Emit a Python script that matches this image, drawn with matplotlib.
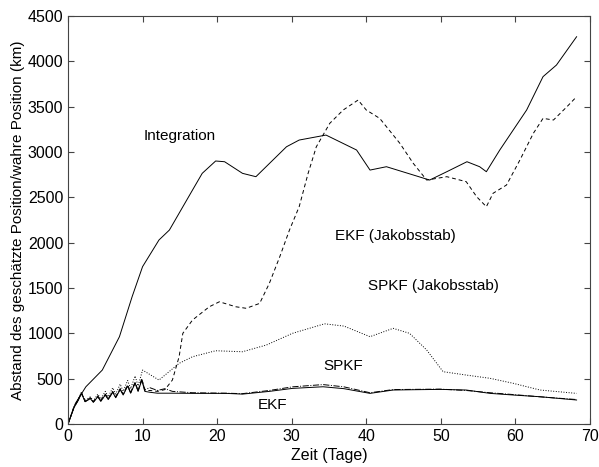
import matplotlib
matplotlib.use('Agg')
import matplotlib.pyplot as plt

plt.rcParams['font.family'] = ['Liberation Sans', 'DejaVu Sans']

# Integration (solid)
integ_t = [0, 1.0, 2.4, 4.6, 6.9, 8.6, 10, 12.2, 13.6, 16.7, 18.0, 19.8, 21.0, 23.4,
           25.2, 29.3, 31.0, 34.6, 38.7, 40.5, 42.7, 48.5, 50.8, 53.5, 55.2, 56.1,
           57.9, 61.5, 63.7, 65.5, 68.2]
integ_v = [0, 228, 411, 595, 963, 1404, 1735, 2029, 2139, 2580, 2764, 2900, 2892, 2764,
           2727, 3057, 3131, 3186, 3021, 2800, 2837, 2690, 2782, 2892, 2837, 2782,
           3021, 3462, 3830, 3958, 4270]

# EKF mit Jakobsstab (dashed)
ekfj_t = [0, 0.8, 1.4, 1.8, 2.3, 3.0, 3.4, 4.0, 4.4, 5.0, 5.4, 6.0, 6.4, 7.0, 7.4,
          8.0, 8.4, 9.0, 9.4, 9.9, 10.3, 11.0, 12.0, 13.0, 14.0, 14.9, 15.4, 16.7,
          18.95, 20.3, 22.5, 23.9, 25.7, 27.0, 28.4, 29.7, 31.0, 32.2, 33.3, 35.1,
          36.9, 38.9, 40.0, 41.8, 44.5, 46.3, 48.1, 50.8, 53.4, 54.8, 56.1, 57.0,
          58.8, 60.6, 62.4, 63.7, 65.1, 66.9, 68.2]
ekfj_v = [0, 190, 270, 345, 250, 290, 245, 310, 260, 330, 280, 360, 300, 390, 330,
          430, 350, 460, 370, 500, 370, 370, 360, 380, 485, 742, 1000, 1147,
          1293, 1348, 1293, 1276, 1330, 1551, 1845, 2139, 2396, 2764, 3057, 3315,
          3462, 3572, 3462, 3370, 3095, 2874, 2690, 2727, 2672, 2506, 2396, 2544,
          2635, 2911, 3205, 3370, 3352, 3498, 3609]

# SPKF mit Jakobsstab (dotted)
spkfj_t = [0, 0.8, 1.4, 1.8, 2.3, 3.0, 3.4, 4.0, 4.4, 5.0, 5.4, 6.0, 6.4, 7.0, 7.4,
           8.0, 8.4, 9.0, 9.4, 10.0, 12.2, 14.9, 16.7, 19.8, 23.4, 26.6, 30.1,
           34.4, 37.0, 40.5, 43.6, 45.8, 48.1, 50.3, 53.4, 56.6, 59.7, 63.3, 68.2]
spkfj_v = [0, 190, 280, 350, 260, 300, 255, 330, 275, 360, 300, 400, 330, 440, 360,
           480, 390, 530, 420, 595, 485, 669, 742, 808, 797, 871, 1000,
           1105, 1080, 963, 1055, 1000, 816, 577, 540, 504, 449, 375, 338]

# SPKF (dash-dot)
spkf_t = [0, 0.8, 1.4, 1.8, 2.3, 3.0, 3.4, 4.0, 4.4, 5.0, 5.4, 6.0, 6.4, 7.0, 7.4,
          8.0, 8.4, 9.0, 9.4, 9.9, 10.3, 11.0, 12.0, 13.0, 14.0, 16.7, 21.2, 23.4,
          27.0, 30.1, 34.2, 37.0, 40.5, 43.6, 46.0, 49.9, 53.4, 56.6, 59.7, 63.3, 68.2]
spkf_v = [0, 185, 268, 340, 248, 285, 243, 305, 255, 325, 275, 355, 295, 385, 325,
          425, 345, 455, 365, 490, 380, 400, 370, 390, 360, 345, 340, 335,
          370, 410, 435, 410, 345, 380, 382, 385, 370, 345, 325, 300, 270]

# EKF (solid)
ekf_t = [0, 0.8, 1.4, 1.8, 2.3, 3.0, 3.4, 4.0, 4.4, 5.0, 5.4, 6.0, 6.4, 7.0, 7.4,
         8.0, 8.4, 9.0, 9.4, 9.9, 10.3, 11.0, 12.0, 14.0, 16.7, 21.2, 23.4, 27.0,
         30.1, 34.2, 37.0, 40.5, 43.6, 46.0, 49.9, 53.4, 56.6, 59.7, 63.3, 68.2]
ekf_v = [0, 180, 265, 338, 246, 280, 240, 300, 250, 320, 270, 350, 290, 380, 320,
         420, 340, 450, 360, 485, 360, 350, 340, 340, 338, 338, 330, 360,
         393, 411, 390, 338, 375, 378, 382, 375, 338, 320, 301, 265]

labels = ['Integration', 'EKF (Jakobsstab)', 'SPKF (Jakobsstab)', 'SPKF', 'EKF']
label_x = [10.2, 35.8, 40.2, 34.3, 25.4]
label_y = [3175, 2073, 1521, 640, 210]

fig = plt.figure(figsize=(5.99, 4.67), dpi=100)
ax = fig.add_axes([0.1135, 0.092, 0.8715, 0.874])

ax.plot(integ_t, integ_v, '-', color='black', lw=0.7)
ax.plot(ekfj_t, ekfj_v, '--', color='black', lw=0.7, dashes=(4, 3))
ax.plot(spkfj_t, spkfj_v, ':', color='black', lw=0.7)
ax.plot(spkf_t, spkf_v, '-.', color='black', lw=0.7)
ax.plot(ekf_t, ekf_v, '-', color='black', lw=0.7)

for s, tx, ty in zip(labels, label_x, label_y):
    ax.text(tx, ty, s, fontsize=11, va='center', ha='left')

ax.set_xlim(0, 70)
ax.set_ylim(0, 4500)
ax.set_xticks(range(0, 71, 10))
ax.set_yticks(range(0, 4501, 500))
for sp in ax.spines.values():
    sp.set_color('#444444')
ax.tick_params(direction='in', top=True, right=True, labelsize=11.5, length=4,
               color='#444444')
ax.set_xlabel('Zeit (Tage)', fontsize=11.5, labelpad=3)
ax.set_ylabel('Abstand des geschätzte Position/wahre Position (km)', fontsize=11, labelpad=2)

fig.savefig('out.png', dpi=100)
